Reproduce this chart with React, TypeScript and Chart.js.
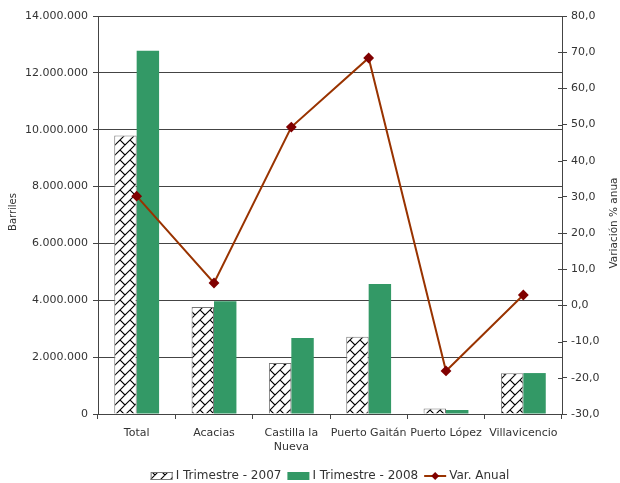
import React, { useEffect, useRef } from "react";
import { Chart, registerables } from "chart.js";

Chart.register(...registerables);

const categories: (string | string[])[] = ["Total", "Acacias", ["Castilla la", "Nueva"], "Puerto Gaitán", "Puerto López", "Villavicencio"];
const trimestre2007 = [9800000, 3760000, 1790000, 2720000, 190000, 1430000];
const trimestre2008 = [12780000, 3970000, 2670000, 4570000, 140000, 1440000];
const varAnual = [30.2, 6.2, 49.3, 68.4, -18.1, 2.9];
const seriesNames = ["I Trimestre - 2007", "I Trimestre - 2008", "Var. Anual"];
const leftTitle = "Barriles";
const rightTitle = "Variación % anua";

const FONT = "'DejaVu Sans', Verdana, sans-serif";
const TXT = "#333";
const LINE = "#444";

function makeHatch(): CanvasPattern | string {
  const c = document.createElement("canvas");
  c.width = 10;
  c.height = 10;
  const g = c.getContext("2d");
  if (!g) return "#fff";
  g.fillStyle = "#fff";
  g.fillRect(0, 0, 10, 10);
  g.strokeStyle = "#000";
  g.lineWidth = 1.1;
  g.beginPath();
  g.moveTo(-1, 11);
  g.lineTo(11, -1);
  g.moveTo(-1, 1);
  g.lineTo(1, -1);
  g.moveTo(9, 11);
  g.lineTo(11, 9);
  g.moveTo(0, 0);
  g.lineTo(5, 5);
  g.moveTo(10, 10);
  g.lineTo(10.6, 10.6);
  g.stroke();
  const p = g.createPattern(c, "repeat");
  return p || "#fff";
}

function fmtThousands(v: number): string {
  const s = Math.round(v).toString();
  return s.replace(/\B(?=(\d{3})+(?!\d))/g, ".");
}

const titlesPlugin = {
  id: "axisTitles",
  afterDraw(chart: any) {
    const ctx = chart.ctx;
    const a = chart.chartArea;
    // inner ticks on right axis
    const y1 = chart.scales.y1;
    ctx.save();
    ctx.strokeStyle = LINE;
    ctx.lineWidth = 1;
    ctx.beginPath();
    y1.ticks.forEach((t: any) => {
      const py = Math.round(y1.getPixelForValue(t.value)) + 0.5;
      ctx.moveTo(a.right - 4, py);
      ctx.lineTo(a.right, py);
    });
    ctx.stroke();
    ctx.restore();

    ctx.save();
    ctx.fillStyle = TXT;
    ctx.font = `10px ${FONT}`;
    ctx.textAlign = "center";
    ctx.textBaseline = "middle";
    ctx.translate(13, 212);
    ctx.rotate(-Math.PI / 2);
    ctx.fillText(leftTitle, 0, 0);
    ctx.restore();
    ctx.save();
    ctx.fillStyle = TXT;
    ctx.font = `10.5px ${FONT}`;
    ctx.textAlign = "center";
    ctx.textBaseline = "middle";
    ctx.translate(614, 223);
    ctx.rotate(-Math.PI / 2);
    ctx.fillText(rightTitle, 0, 0);
    ctx.restore();

    // legend
    const y = 476;
    ctx.save();
    ctx.font = `12px ${FONT}`;
    ctx.textBaseline = "middle";
    ctx.textAlign = "left";
    const symW = 22;
    const gapSymText = 3;
    const gapItems = 6;
    const ds = chart.data.datasets;
    const items = [ds[1], ds[2], ds[0]];
    let total = 0;
    items.forEach((d: any, i: number) => {
      total += symW + gapSymText + ctx.measureText(d.label).width + (i < items.length - 1 ? gapItems : 0);
    });
    let x = (a.left + a.right) / 2 - total / 2;
    items.forEach((d: any) => {
      if (d.type === "line") {
        ctx.strokeStyle = d.borderColor;
        ctx.lineWidth = 2;
        ctx.beginPath();
        ctx.moveTo(x, y);
        ctx.lineTo(x + symW, y);
        ctx.stroke();
        ctx.fillStyle = d.pointBackgroundColor;
        ctx.beginPath();
        const cx = x + symW / 2;
        ctx.moveTo(cx, y - 4);
        ctx.lineTo(cx + 4, y);
        ctx.lineTo(cx, y + 4);
        ctx.lineTo(cx - 4, y);
        ctx.closePath();
        ctx.fill();
      } else {
        ctx.fillStyle = d.backgroundColor;
        ctx.fillRect(x, y - 4, symW, 8);
        if (d.borderWidth) {
          ctx.strokeStyle = d.borderColor;
          ctx.lineWidth = 1;
          ctx.strokeRect(x + 0.5, y - 3.5, symW - 1, 7);
        }
      }
      x += symW + gapSymText;
      ctx.fillStyle = TXT;
      ctx.fillText(d.label, x, y);
      x += ctx.measureText(d.label).width + gapItems;
    });
    ctx.restore();
  },
};

export default function App() {
  const ref = useRef<HTMLCanvasElement | null>(null);
  useEffect(() => {
    if (!ref.current) return;
    const hatch = makeHatch();
    const chart = new Chart(ref.current, {
      type: "bar",
      data: {
        labels: categories as any,
        datasets: [
          {
            type: "line",
            label: seriesNames[2],
            data: varAnual,
            yAxisID: "y1",
            borderColor: "#993300",
            borderWidth: 2,
            pointStyle: "rectRot",
            pointRadius: 4,
            pointBackgroundColor: "#800000",
            pointBorderColor: "#800000",
            tension: 0,
            order: 0,
          } as any,
          {
            type: "bar",
            label: seriesNames[0],
            data: trimestre2007,
            yAxisID: "y",
            backgroundColor: hatch as any,
            borderColor: "#777",
            borderWidth: 1,
            barPercentage: 1,
            categoryPercentage: 0.58,
            order: 1,
          },
          {
            type: "bar",
            label: seriesNames[1],
            data: trimestre2008,
            yAxisID: "y",
            backgroundColor: "#339966",
            borderColor: "#339966",
            borderWidth: 0,
            barPercentage: 1,
            categoryPercentage: 0.58,
            order: 2,
          },
        ],
      },
      options: {
        responsive: true,
        maintainAspectRatio: false,
        animation: false,
        layout: { padding: { top: 16, bottom: 29, left: 0, right: 0 } },
        plugins: {
          legend: { display: false },
          tooltip: { enabled: false },
        },
        scales: {
          x: {
            offset: true,
            grid: { offset: true, drawOnChartArea: false, tickLength: 5, color: LINE },
            border: { color: LINE },
            ticks: { font: { family: FONT, size: 11 }, color: TXT, padding: 8, maxRotation: 0, autoSkip: false },
            afterFit: (s: any) => {
              s.height = 40;
            },
          },
          y: {
            position: "left",
            min: 0,
            max: 14000000,
            grid: { color: LINE, tickLength: 5 },
            border: { color: LINE },
            ticks: {
              stepSize: 2000000,
              font: { family: FONT, size: 11 },
              color: TXT,
              padding: 5,
              callback: (v: any) => fmtThousands(Number(v)),
            },
            afterFit: (s: any) => {
              s.width = 98;
            },
          },
          y1: {
            position: "right",
            min: -30,
            max: 80,
            grid: { drawOnChartArea: false, color: LINE, tickLength: 5 },
            border: { color: LINE },
            ticks: {
              stepSize: 10,
              font: { family: FONT, size: 11 },
              color: TXT,
              padding: 4,
              callback: (v: any) => Number(v).toFixed(1).replace(".", ","),
            },
            afterFit: (s: any) => {
              s.width = 58;
            },
          },
        },
      },
      plugins: [titlesPlugin],
    });
    return () => chart.destroy();
  }, []);
  return (
    <div style={{ position: "fixed", left: 0, top: 0, width: 620, height: 483, background: "#fff" }}>
      <canvas ref={ref} />
    </div>
  );
}
